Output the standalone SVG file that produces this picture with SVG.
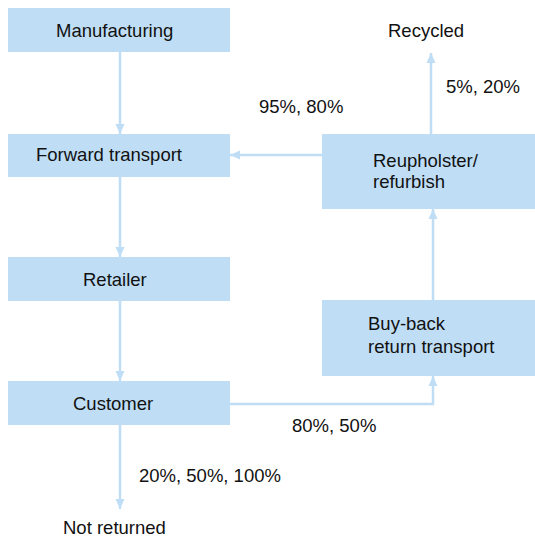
<svg xmlns="http://www.w3.org/2000/svg" width="535" height="540" viewBox="0 0 535 540">
<style>
.box{fill:#bfdef5;}
.t{font-family:"Liberation Sans",Arial,sans-serif;font-size:18.5px;fill:#111;}
.c{stroke:#bfdef5;stroke-width:2.5;fill:none;}
</style>
<defs>
<marker id="ah" markerUnits="userSpaceOnUse" markerWidth="10" markerHeight="10" refX="10" refY="5" orient="auto">
<path d="M0,0.5 L10,5 L0,9.5 z" fill="#bfdef5"/>
</marker>
</defs>
<rect width="535" height="540" fill="#fff"/>
<g id="connectors">
<line class="c" x1="120" y1="52" x2="120" y2="134" marker-end="url(#ah)"/>
<line class="c" x1="120" y1="177" x2="120" y2="257" marker-end="url(#ah)"/>
<line class="c" x1="120" y1="301" x2="120" y2="381" marker-end="url(#ah)"/>
<line class="c" x1="120" y1="425" x2="120" y2="509" marker-end="url(#ah)"/>
<polyline class="c" points="230,404 433,404 433,376" marker-end="url(#ah)"/>
<line class="c" x1="433" y1="300" x2="433" y2="209" marker-end="url(#ah)"/>
<line class="c" x1="431" y1="134" x2="431" y2="53" marker-end="url(#ah)"/>
<line class="c" x1="322" y1="155" x2="230" y2="155" marker-end="url(#ah)"/>
<text class="t" x="259" y="113">95%, 80%</text>
<text class="t" x="446" y="93">5%, 20%</text>
<text class="t" x="292" y="432">80%, 50%</text>
<text class="t" x="139" y="482">20%, 50%, 100%</text>
</g>
<g id="manufacturing">
<rect class="box" x="8" y="8" width="222" height="44"/>
<text class="t" x="56" y="37">Manufacturing</text>
</g>
<g id="forward-transport">
<rect class="box" x="8" y="134" width="222" height="43"/>
<text class="t" x="36" y="161">Forward transport</text>
</g>
<g id="retailer">
<rect class="box" x="8" y="257" width="222" height="44"/>
<text class="t" x="83" y="286">Retailer</text>
</g>
<g id="customer">
<rect class="box" x="8" y="381" width="222" height="44"/>
<text class="t" x="73" y="410">Customer</text>
</g>
<g id="not-returned">
<text class="t" x="63" y="534">Not returned</text>
</g>
<g id="buy-back">
<rect class="box" x="322" y="300" width="213" height="76"/>
<text class="t" x="368" y="330">Buy-back</text>
<text class="t" x="368" y="353">return transport</text>
</g>
<g id="reupholster">
<rect class="box" x="322" y="134" width="213" height="75"/>
<text class="t" x="373" y="167">Reupholster/</text>
<text class="t" x="373" y="188">refurbish</text>
</g>
<g id="recycled">
<text class="t" x="388" y="37">Recycled</text>
</g>
</svg>
